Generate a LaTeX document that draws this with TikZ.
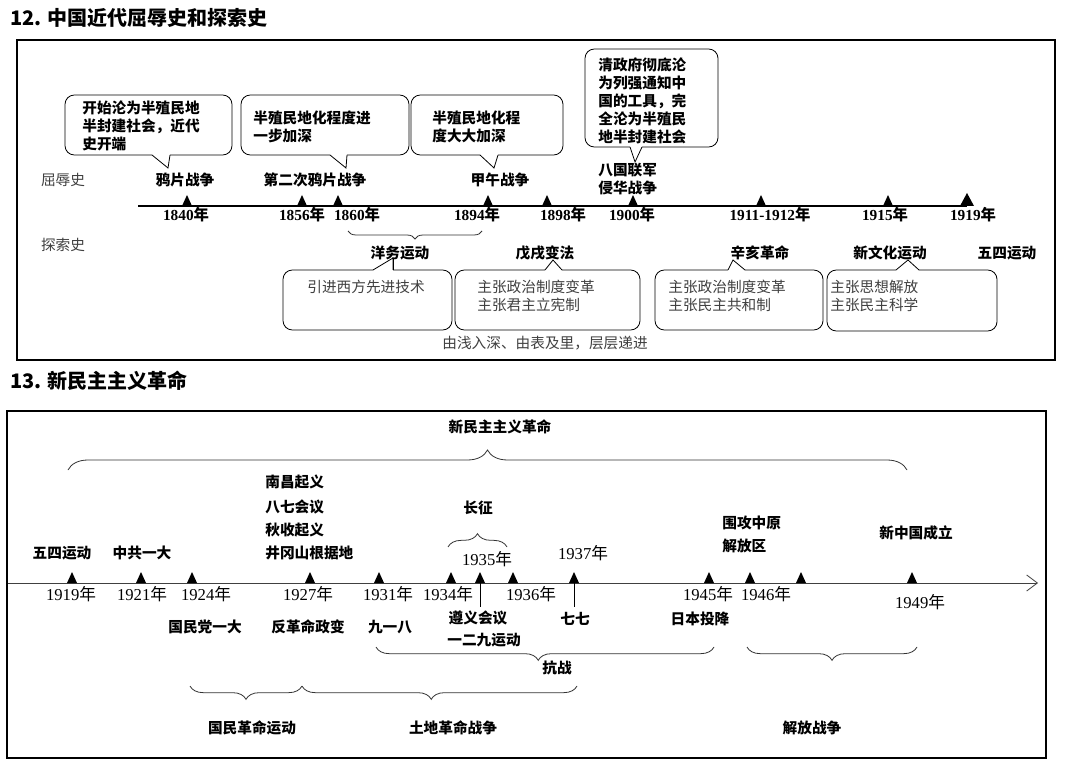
\documentclass[tikz,border=0pt]{standalone}
\usepackage{fontspec}
\setmainfont{Liberation Serif}
\newfontfamily\cjk{Noto Sans CJK SC}
\usetikzlibrary{decorations.pathreplacing,arrows.meta}
\newcommand\yr[1]{{#1\cjk 年}}
\newcommand\tri[2]{\fill (#1-5,#2)--(#1+5,#2)--(#1,#2-11)--cycle;}
\newcommand\callD[8]{\draw[rounded corners=7pt] (#1,#2) rectangle (#3,#4); \draw[white,line width=1.6pt] (#5,#4)--(#6,#4); \draw (#5,#4)--(#7,#8)--(#6,#4);}
\newcommand\callU[8]{\draw[rounded corners=7pt] (#1,#2) rectangle (#3,#4); \draw[white,line width=1.6pt] (#5,#2)--(#6,#2); \draw (#5,#2)--(#7,#8)--(#6,#2);}
\tikzset{lb/.style={inner sep=0pt,font=\cjk\bfseries\fontsize{11}{12}\selectfont},
 lt/.style={inner sep=0pt,text=black!75,font=\cjk\fontsize{11}{12}\selectfont},
 yl/.style={inner sep=0pt,font=\bfseries\fontsize{11.5}{12}\selectfont},
 yn/.style={inner sep=0pt,font=\fontsize{12.5}{13}\selectfont},
 br/.style={decorate,decoration={brace,amplitude=#1},draw=black!80},
 br/.default=8pt}
\begin{document}
\begin{tikzpicture}[x=0.75pt,y=-0.75pt,line width=0.6pt]
\useasboundingbox (0,0) rectangle (1080,762);
\fill[white] (0,0) rectangle (1080,762);
% ===== section 12
\node[anchor=west,inner sep=0pt,font=\cjk\bfseries\fontsize{15}{16}\selectfont] (t1) at (10,18) {12. 中国近代屈辱史和探索史};
\draw[line width=1.1pt] (17,40) rectangle (1055,360);
\draw[line width=1pt] (138,206) -- (967,206);
\foreach \x in {187,302,338,488,547,633,761,888}{\tri{\x}{206}}
\fill (960,206)--(974,206)--(967,193)--cycle;
\node[yl] (y1840) at (186,215) {\yr{1840}};
\node[yl] (y1856) at (302,215) {\yr{1856}};
\node[yl] (y1860) at (357,215) {\yr{1860}};
\node[yl] (y1894) at (477,215) {\yr{1894}};
\node[yl] (y1898) at (563,215) {\yr{1898}};
\node[yl] (y1900) at (632,215) {\yr{1900}};
\node[yl] (y1911) at (770,215) {\yr{1911-1912}};
\node[yl] (y1915) at (885,215) {\yr{1915}};
\node[yl] (y1919) at (973,215) {\yr{1919}};
\node[lt] (qr) at (63,180) {屈辱史};
\node[lt] (ts) at (63,245) {探索史};
\node[lb] (e1) at (185,180) {鸦片战争};
\node[lb] (e2) at (315,180) {第二次鸦片战争};
\node[lb] (e3) at (500,180) {甲午战争};
\node[lb,anchor=west] (e4) at (598,170) {八国联军};
\node[lb,anchor=west] (e4b) at (598,188) {侵华战争};
\callD{65}{95}{232}{155}{152}{170}{168}{168}
\node[lb,anchor=west] at (82,108) {开始沦为半殖民地};
\node[lb,anchor=west] at (82,126) {半封建社会，近代};
\node[lb,anchor=west] at (82,144) {史开端};
\callD{241}{95}{409}{155}{330}{347}{346}{168}
\node[lb,anchor=west] at (253,118) {半殖民地化程度进};
\node[lb,anchor=west] at (253,136) {一步加深};
\callD{411}{95}{563}{155}{480}{498}{494}{168}
\node[lb,anchor=west] at (432,118) {半殖民地化程};
\node[lb,anchor=west] at (432,136) {度大大加深};
\callD{585}{49}{718}{147}{630}{642}{635}{162}
\node[lb,anchor=west] at (598,65) {清政府彻底沦};
\node[lb,anchor=west] at (598,83) {为列强通知中};
\node[lb,anchor=west] at (598,101) {国的工具，完};
\node[lb,anchor=west] at (598,119) {全沦为半殖民};
\node[lb,anchor=west] at (598,137) {地半封建社会};
\draw[br=6pt] (482,231) -- (348,231);
\node[lb] (m1) at (400,253) {洋务运动};
\node[lb] (m2) at (545,253) {戊戌变法};
\node[lb] (m3) at (760,253) {辛亥革命};
\node[lb] (m4) at (890,253) {新文化运动};
\node[lb] (m5) at (1007,253) {五四运动};
\callU{283}{270}{452}{330}{373}{393}{393}{258}
\draw (393,258)--(393,270);
\node[lt,anchor=west] at (307,287) {引进西方先进技术};
\callU{455}{270}{640}{330}{545}{562}{553}{260}
\node[lt,anchor=west] at (477,287) {主张政治制度变革};
\node[lt,anchor=west] at (477,305) {主张君主立宪制};
\callU{655}{270}{823}{330}{728}{745}{733}{260}
\node[lt,anchor=west] at (668,287) {主张政治制度变革};
\node[lt,anchor=west] at (668,305) {主张民主共和制};
\callU{827}{270}{997}{331}{896}{919}{908}{260}
\node[lt,anchor=west] at (830,287) {主张思想解放};
\node[lt,anchor=west] at (830,305) {主张民主科学};
\node[lt,anchor=west] (sum) at (442,343) {由浅入深、由表及里，层层递进};
% ===== section 13
\node[anchor=west,inner sep=0pt,font=\cjk\bfseries\fontsize{15}{16}\selectfont] (t2) at (10,381) {13. 新民主主义革命};
\draw[line width=1.1pt] (7,411) rectangle (1046,758);
\node[lb] (xm) at (500,427) {新民主主义革命};
\draw[br=15pt] (68,470) -- (907,470);
\draw[-{Straight Barb[length=8pt,width=12pt]},black!75] (8,583) -- (1038,583);
\foreach \x in {72,141,192,310,379,451,480,513,574,709,750,801,912}{\tri{\x}{583}}
\draw (480,583)--(480,607);
\draw (574,583)--(574,607);
\node[yn] at (71,594) {\yr{1919}};
\node[yn] at (142,594) {\yr{1921}};
\node[yn] at (206,594) {\yr{1924}};
\node[yn] at (308,594) {\yr{1927}};
\node[yn] at (388,594) {\yr{1931}};
\node[yn] at (448,594) {\yr{1934}};
\node[yn] at (531,594) {\yr{1936}};
\node[yn] at (708,594) {\yr{1945}};
\node[yn] at (766,594) {\yr{1946}};
\node[yn] at (920,602) {\yr{1949}};
\node[yn] at (487,559) {\yr{1935}};
\node[yn] at (583,553) {\yr{1937}};
\node[lb] at (62,553) {五四运动};
\node[lb] at (142,553) {中共一大};
\node[lb,anchor=west] at (265,482) {南昌起义};
\node[lb,anchor=west] at (265,507) {八七会议};
\node[lb,anchor=west] at (265,530) {秋收起义};
\node[lb,anchor=west] at (265,553) {井冈山根据地};
\node[lb] at (478,508) {长征};
\draw[br=10pt] (448,547) -- (507,547);
\node[lb,anchor=west] at (722,523) {围攻中原};
\node[lb,anchor=west] at (722,546) {解放区};
\node[lb] at (916,533) {新中国成立};
\node[lb] at (205,627) {国民党一大};
\node[lb] at (308,627) {反革命政变};
\node[lb] at (390,627) {九一八};
\node[lb] at (478,618) {遵义会议};
\node[lb] at (484,640) {一二九运动};
\node[lb] at (575,619) {七七};
\node[lb] at (700,619) {日本投降};
\draw[br=10pt,decoration={aspect=0.52}] (714,647) -- (376,647);
\node[lb] at (557,668) {抗战};
\draw[br=10pt] (917,647) -- (747,647);
\draw[br=10pt,decoration={aspect=0.53}] (577,686) -- (302,686);
\draw[br=10pt] (302,686) -- (190,686);
\node[lb] at (252,728) {国民革命运动};
\node[lb] at (453,728) {土地革命战争};
\node[lb] at (812,728) {解放战争};
\end{tikzpicture}
\end{document}
